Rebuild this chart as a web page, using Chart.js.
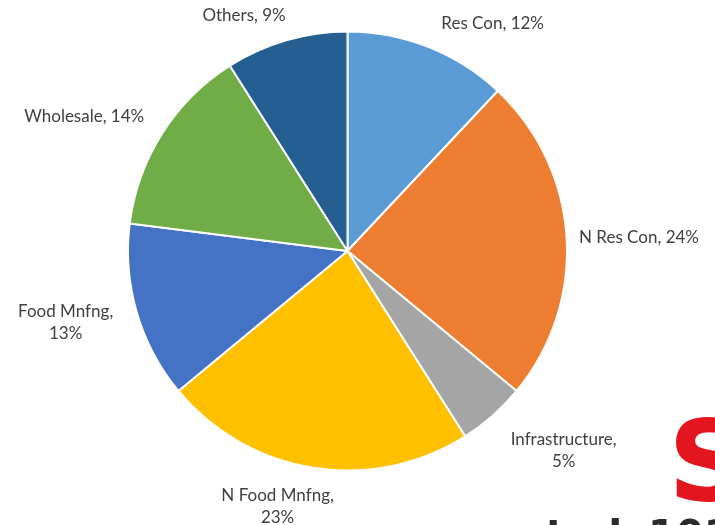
<!DOCTYPE html>
<html>
<head>
<meta charset="utf-8">
<script src="https://cdn.jsdelivr.net/npm/chart.js@4/dist/chart.umd.min.js"></script>
<style>
html,body{margin:0;padding:0;background:#fff;}
#wrap{position:relative;width:715px;height:525px;}
</style>
</head>
<body>
<div id="wrap"><canvas id="c" width="715" height="525"></canvas></div>
<script>
const categories = ["Res Con", "N Res Con", "Infrastructure", "N Food Mnfng", "Food Mnfng", "Wholesale", "Others"];
const shares = [12, 24, 5, 23, 13, 14, 9];
const colors = ["#5B9BD5", "#ED7D31", "#A5A5A5", "#FFC000", "#4472C4", "#70AD47", "#255E91"];
const wrapLabel = [false, false, true, true, true, false, false];

const labelPlugin = {
  id: 'outsideLabels',
  afterDatasetsDraw(chart, args, opts) {
    const ctx = chart.ctx;
    const meta = chart.getDatasetMeta(0);
    ctx.save();
    ctx.font = opts.font;
    ctx.fillStyle = opts.color;
    ctx.textAlign = 'center';
    ctx.textBaseline = 'middle';
    const lh = opts.lineHeight;
    meta.data.forEach((arc, i) => {
      const p = arc.getProps(['x', 'y', 'startAngle', 'endAngle', 'outerRadius'], true);
      const mid = (p.startAngle + p.endAngle) / 2;
      const cx = Math.cos(mid), cy = Math.sin(mid);
      const lines = wrapLabel[i]
        ? [categories[i] + ',', shares[i] + '%']
        : [categories[i] + ', ' + shares[i] + '%'];
      const w = Math.max(...lines.map(l => ctx.measureText(l).width));
      const h = lines.length * lh;
      const ext = Math.abs(cx) * w / 2 + Math.abs(cy) * h / 2;
      const d = p.outerRadius + opts.gap + ext;
      const n = opts.nudge[i] || [0, 0];
      const x = p.x + cx * d + n[0];
      const y = p.y + cy * d + n[1];
      lines.forEach((l, k) => {
        ctx.fillText(l, x, y - h / 2 + lh / 2 + k * lh);
      });
    });
    ctx.restore();
  }
};

const logoPlugin = {
  id: 'logo',
  afterDraw(chart) {
    const ctx = chart.ctx;
    ctx.save();
    ctx.fillStyle = '#E3151F';
    ctx.font = 'bold 112px "DejaVu Sans"';
    ctx.textAlign = 'left';
    ctx.textBaseline = 'alphabetic';
    ctx.fillText('S', 668, 500);
    ctx.fillStyle = '#2b2b2b';
    ctx.font = 'bold 40px "DejaVu Sans"';
    ctx.fillText('study101', 522, 549);
    ctx.restore();
  }
};

new Chart(document.getElementById('c'), {
  type: 'pie',
  data: {
    labels: categories,
    datasets: [{
      data: shares,
      backgroundColor: colors,
      borderColor: '#ffffff',
      borderWidth: 2
    }]
  },
  options: {
    responsive: false,
    animation: false,
    layout: { padding: { left: 127, right: 147, top: 30, bottom: 53 } },
    plugins: {
      legend: { display: false },
      tooltip: { enabled: false },
      outsideLabels: {
        font: '17px "Lato"', color: '#404040', gap: 18, lineHeight: 22,
        nudge: [[47, 20], [-6, 5], [25, -17], [-28, -9], [-4, -9], [-15, 23], [-31, 14]]
      }
    }
  },
  plugins: [labelPlugin, logoPlugin]
});
</script>
</body>
</html>
